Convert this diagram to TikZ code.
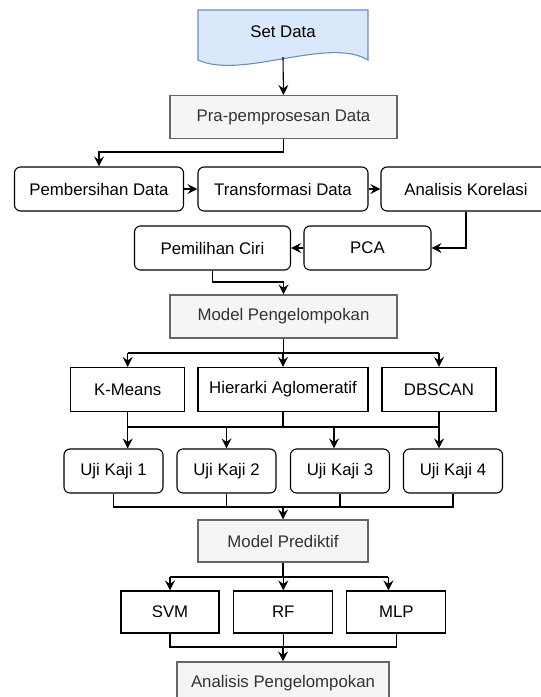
\documentclass[tikz,border=0pt]{standalone}
\usepackage{fontspec}
\setmainfont{Liberation Sans}
\usetikzlibrary{arrows.meta}
\definecolor{docfill}{HTML}{DAE8FC}
\definecolor{docline}{HTML}{6C8EBF}
\definecolor{grayfill}{HTML}{F5F5F5}
\definecolor{grayline}{HTML}{666666}
\definecolor{graytext}{HTML}{333333}

\begin{document}
\begin{tikzpicture}[x=1pt,y=-1pt,>={Stealth[length=10pt,width=10pt,inset=3.5pt]},
		line width=1.1pt,font=\fontsize{16.8}{20}\selectfont,
		stage/.style={rectangle,draw=grayline,fill=grayfill,text=graytext,minimum height=43pt,inner sep=0pt},
		soft/.style={rectangle,rounded corners=6pt,draw,minimum height=44pt,inner sep=0pt},
		hard/.style={rectangle,draw,minimum height=44pt,inner sep=0pt}]
		\useasboundingbox (0,0) rectangle (541,697);
		\clip (0,0) rectangle (541,697);
		% data masukan
		\path[draw=docline,fill=docfill] (198,10) -- (368,10) -- (368,60)
			.. controls (328,36) and (242,80) .. (198,60) -- cycle;
		\node (sd) at (283,32) {Set Data};
		\coordinate (sdb) at (283,57);
		% pra-pemprosesan
		\node[stage, minimum width=227pt] (pre) at (283.5,117) {Pra-pemprosesan Data};
		\node[soft, minimum width=169pt] (bersih) at (99,189) {Pembersihan Data};
		\node[soft, minimum width=170pt] (trans) at (283,189) {Transformasi Data};
		\node[soft, minimum width=170pt] (korel) at (466,189) {Analisis Korelasi};
		\node[soft, minimum width=127pt] (pca) at (367.5,248) {PCA};
		\node[soft, minimum width=156pt] (ciri) at (212.5,248) {Pemilihan Ciri};
		% pengelompokan
		\node[stage, minimum width=227pt] (kelompok) at (283.5,316.5) {Model Pengelompokan};
		\node[hard, minimum width=114pt] (kmeans) at (127.7,389.5) {K-Means};
		\node[hard, minimum width=170pt] (hier) at (283,389.5) {Hierarki Aglomeratif};
		\node[hard, minimum width=114pt] (dbscan) at (439,389.5) {DBSCAN};
		\node[soft, minimum width=99pt] (uji1) at (113.5,471) {Uji Kaji 1};
		\node[soft, minimum width=99pt] (uji2) at (226.5,471) {Uji Kaji 2};
		\node[soft, minimum width=99pt] (uji3) at (340,471) {Uji Kaji 3};
		\node[soft, minimum width=99pt] (uji4) at (453,471) {Uji Kaji 4};
		% prediktif
		\node[stage, minimum width=170pt, minimum height=42pt] (prediktif) at (283,541) {Model Prediktif};
		\node[hard, minimum width=98pt, minimum height=42pt] (svm) at (170,612) {SVM};
		\node[hard, minimum width=99pt, minimum height=42pt] (rf) at (283.3,612) {RF};
		\node[hard, minimum width=99pt, minimum height=42pt] (mlp) at (396.4,612) {MLP};
		\node[stage, minimum width=212pt, minimum height=42pt] (hasil) at (283,683) {Analisis Pengelompokan};
		% garis bas
		\coordinate (bas1) at (0,152);
		\coordinate (bas2) at (0,282);
		\coordinate (bas3) at (0,353);
		\coordinate (bas4) at (0,427);
		\coordinate (bas5) at (0,507);
		\coordinate (bas6) at (0,577);
		\coordinate (bas7) at (0,647);
		\path[->]
		(sdb) edge (pre.north)
		(bersih) edge (trans)
		(trans) edge (korel)
		(pca) edge (ciri);
		\draw[->] (pre.south) -- (pre.south |- bas1) -| (bersih.north);
		\draw[->] (korel.south) |- (pca.east);
		\draw[->] (ciri.south) |- (bas2 -| kelompok.north) -- (kelompok.north);
		\draw (kmeans.north |- bas3) -- (dbscan.north |- bas3);
		\draw (kelompok.south) -- (kelompok.south |- bas3);
		\path[->]
		(kmeans.north |- bas3) edge (kmeans.north)
		(hier.north |- bas3) edge (hier.north)
		(dbscan.north |- bas3) edge (dbscan.north);
		\draw (kmeans.south) |- (dbscan.south |- bas4) -- (dbscan.south);
		\draw (hier.south) -- (hier.south |- bas4);
		\path[->]
		(kmeans.south |- bas4) edge (kmeans.south |- uji1.north)
		(uji2.north |- bas4) edge (uji2.north)
		([xshift=-6pt]uji3.north |- bas4) edge ([xshift=-6pt]uji3.north)
		(dbscan.south |- bas4) edge (dbscan.south |- uji4.north);
		\draw (uji1.south) |- (uji4.south |- bas5) -- (uji4.south);
		\draw (uji2.south) -- (uji2.south |- bas5);
		\draw (uji3.south) -- (uji3.south |- bas5);
		\draw[->] (prediktif.north |- bas5) -- (prediktif.north);
		\draw (prediktif.south) -- (prediktif.south |- bas6);
		\draw (svm.north |- bas6) -- ([xshift=-8pt]mlp.north |- bas6);
		\path[->]
		(svm.north |- bas6) edge (svm.north)
		(rf.north |- bas6) edge (rf.north)
		([xshift=-8pt]mlp.north |- bas6) edge ([xshift=-8pt]mlp.north);
		\draw (svm.south) |- (mlp.south |- bas7) -- (mlp.south);
		\draw (rf.south) -- (rf.south |- bas7);
		\draw[->] (hasil.north |- bas7) -- (hasil.north);
\end{tikzpicture}
\end{document}
